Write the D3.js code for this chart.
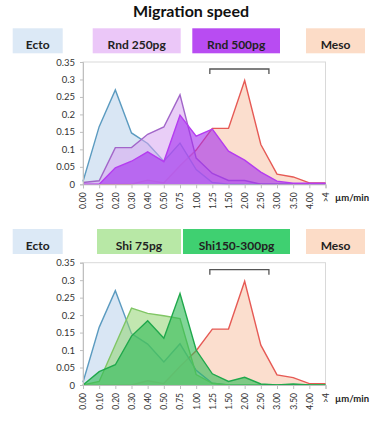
<!DOCTYPE html>
<html><head><meta charset="utf-8">
<script src="https://cdn.jsdelivr.net/npm/d3@7"></script>
<style>
html,body{margin:0;padding:0;background:#fff;}
svg{display:block;font-family:Lato,"Open Sans",sans-serif;}
</style></head>
<body><svg id="c" width="382" height="423"></svg>
<script>
const categories = ["0.00","0.10","0.20","0.30","0.40","0.50","0.75","1.00","1.25","1.50","2.00","2.50","3.00","3.50","4.00",">4"];
const yTicks = [0,0.05,0.1,0.15,0.2,0.25,0.3,0.35];
const ecto   = [0.008,0.165,0.27,0.147,0.117,0.066,0.118,0.042,0.005,0,0,0,0,0,0,0];
const meso   = [0,0,0,0,0.012,0.004,0.053,0.098,0.16,0.16,0.297,0.114,0.029,0.021,0.004,0.004];
const rnd250 = [0.005,0.01,0.105,0.105,0.143,0.164,0.256,0.075,0.031,0.011,0.011,0,0,0,0,0];
const rnd500 = [0,0,0.047,0.066,0.093,0.065,0.198,0.138,0.158,0.095,0.069,0.035,0.009,0.003,0.003,0.003];
const shi75  = [0,0.01,0.115,0.22,0.205,0.198,0.19,0.03,0.005,0,0,0,0,0,0,0];
const shi150 = [0,0.038,0.058,0.14,0.184,0.134,0.262,0.1,0.032,0.01,0.022,0.003,0,0.003,0,0];
const title = "Migration speed";
const unit = "µm/min";

const svg = d3.select("#c");
svg.append("text").attr("x",191).attr("y",17).attr("text-anchor","middle")
  .attr("font-size",16).attr("font-weight","bold").attr("fill","#111").text(title);

const styles = {
  Ecto:{fill:"#c9dcf0",fo:0.7,line:"#5b9bc0",box:"#dce9f6"},
  Meso:{fill:"#f9cdb4",fo:0.65,line:"#e65a55",box:"#fcdcc7"},
  "Rnd 250pg":{fill:"#d7a6f0",fo:0.55,line:"#a266c9",box:"#ebc7f8"},
  "Rnd 500pg":{fill:"#a42cee",fo:0.6,line:"#b53cf0",box:"#b84cf2"},
  "Shi 75pg":{fill:"#8fd36f",fo:0.55,line:"#80c665",box:"#b8e8a6"},
  "Shi150-300pg":{fill:"#2dbb55",fo:0.6,line:"#20a84c",box:"#3fd071"}
};

function panel(top, series, legend){
  const plotTop = top+62, plotBot = top+184.3;
  const x = d3.scalePoint().domain(categories).range([83,325.5]);
  const y = d3.scaleLinear().domain([0,0.35]).range([plotBot,plotTop]);
  const g = svg.append("g");
  // legend boxes
  legend.forEach(l=>{
    g.append("rect").attr("x",l.x).attr("y",top+28.3).attr("width",l.w).attr("height",25)
      .attr("fill",styles[l.name].box);
    g.append("text").attr("x",l.x+l.w/2).attr("y",top+49).attr("text-anchor","middle")
      .attr("font-size",12).attr("font-weight","bold").attr("fill","#222").text(l.name);
  });
  // frame
  g.append("rect").attr("x",83).attr("y",plotTop).attr("width",325.5-83).attr("height",plotBot-plotTop)
    .attr("fill","none").attr("stroke","#d9d9d9").attr("stroke-width",1);
  const area = d3.area().x((d,i)=>x(categories[i])).y0(y(0)).y1(d=>y(d));
  const line = d3.line().x((d,i)=>x(categories[i])).y(d=>y(d));
  series.forEach(s=>{
    const st = styles[s.name];
    g.append("path").datum(s.values).attr("d",area).attr("fill",st.fill).attr("fill-opacity",st.fo);
    g.append("path").datum(s.values).attr("d",line).attr("fill","none").attr("stroke",st.line)
      .attr("stroke-width",1.4).attr("stroke-linejoin","miter");
  });
  // y axis
  const ya = d3.axisLeft(y).tickValues(yTicks).tickSize(3).tickPadding(5).tickFormat(d=>d===0?"0":String(+d.toFixed(2)));
  const yg = g.append("g").attr("transform","translate(83,0)").call(ya);
  yg.select(".domain").attr("stroke","#bfbfbf");
  yg.selectAll(".tick line").attr("stroke","#bfbfbf");
  yg.selectAll("text").attr("font-size",9.5).attr("fill","#333").attr("font-family","Lato,sans-serif");
  // x axis
  const xa = d3.axisBottom(x).tickSize(4).tickPadding(3);
  const xg = g.append("g").attr("transform",`translate(0,${plotBot})`).call(xa);
  xg.select(".domain").attr("stroke","#bfbfbf");
  xg.selectAll(".tick line").attr("stroke","#bfbfbf");
  xg.selectAll("text").attr("font-size",8.5).attr("fill","#333").attr("font-family","Lato,sans-serif")
    .attr("transform","rotate(-90)").attr("text-anchor","end").attr("x",-8).attr("y",0).attr("dy","0.35em");
  g.append("text").attr("x",335).attr("y",top+201).attr("font-size",9.5).attr("font-weight","bold")
    .attr("fill","#222").text(unit);
  // bracket
  const bx1 = x("1.25")-2.5, bx2 = (x("2.50")+x("3.00"))/2, by = plotTop+7;
  g.append("path").attr("d",`M${bx1},${by+5}V${by}H${bx2}V${by+5}`)
    .attr("fill","none").attr("stroke","#555").attr("stroke-width",1.3);
}

panel(0,[
  {name:"Meso",values:meso},
  {name:"Ecto",values:ecto},
  {name:"Rnd 250pg",values:rnd250},
  {name:"Rnd 500pg",values:rnd500}
],[
  {name:"Ecto",x:12.7,w:50},
  {name:"Rnd 250pg",x:92.7,w:88},
  {name:"Rnd 500pg",x:192.3,w:87.7},
  {name:"Meso",x:306,w:59}
]);
panel(200.7,[
  {name:"Meso",values:meso},
  {name:"Ecto",values:ecto},
  {name:"Shi 75pg",values:shi75},
  {name:"Shi150-300pg",values:shi150}
],[
  {name:"Ecto",x:12.7,w:50},
  {name:"Shi 75pg",x:97,w:84},
  {name:"Shi150-300pg",x:183,w:107},
  {name:"Meso",x:306,w:59}
]);
</script></body></html>
